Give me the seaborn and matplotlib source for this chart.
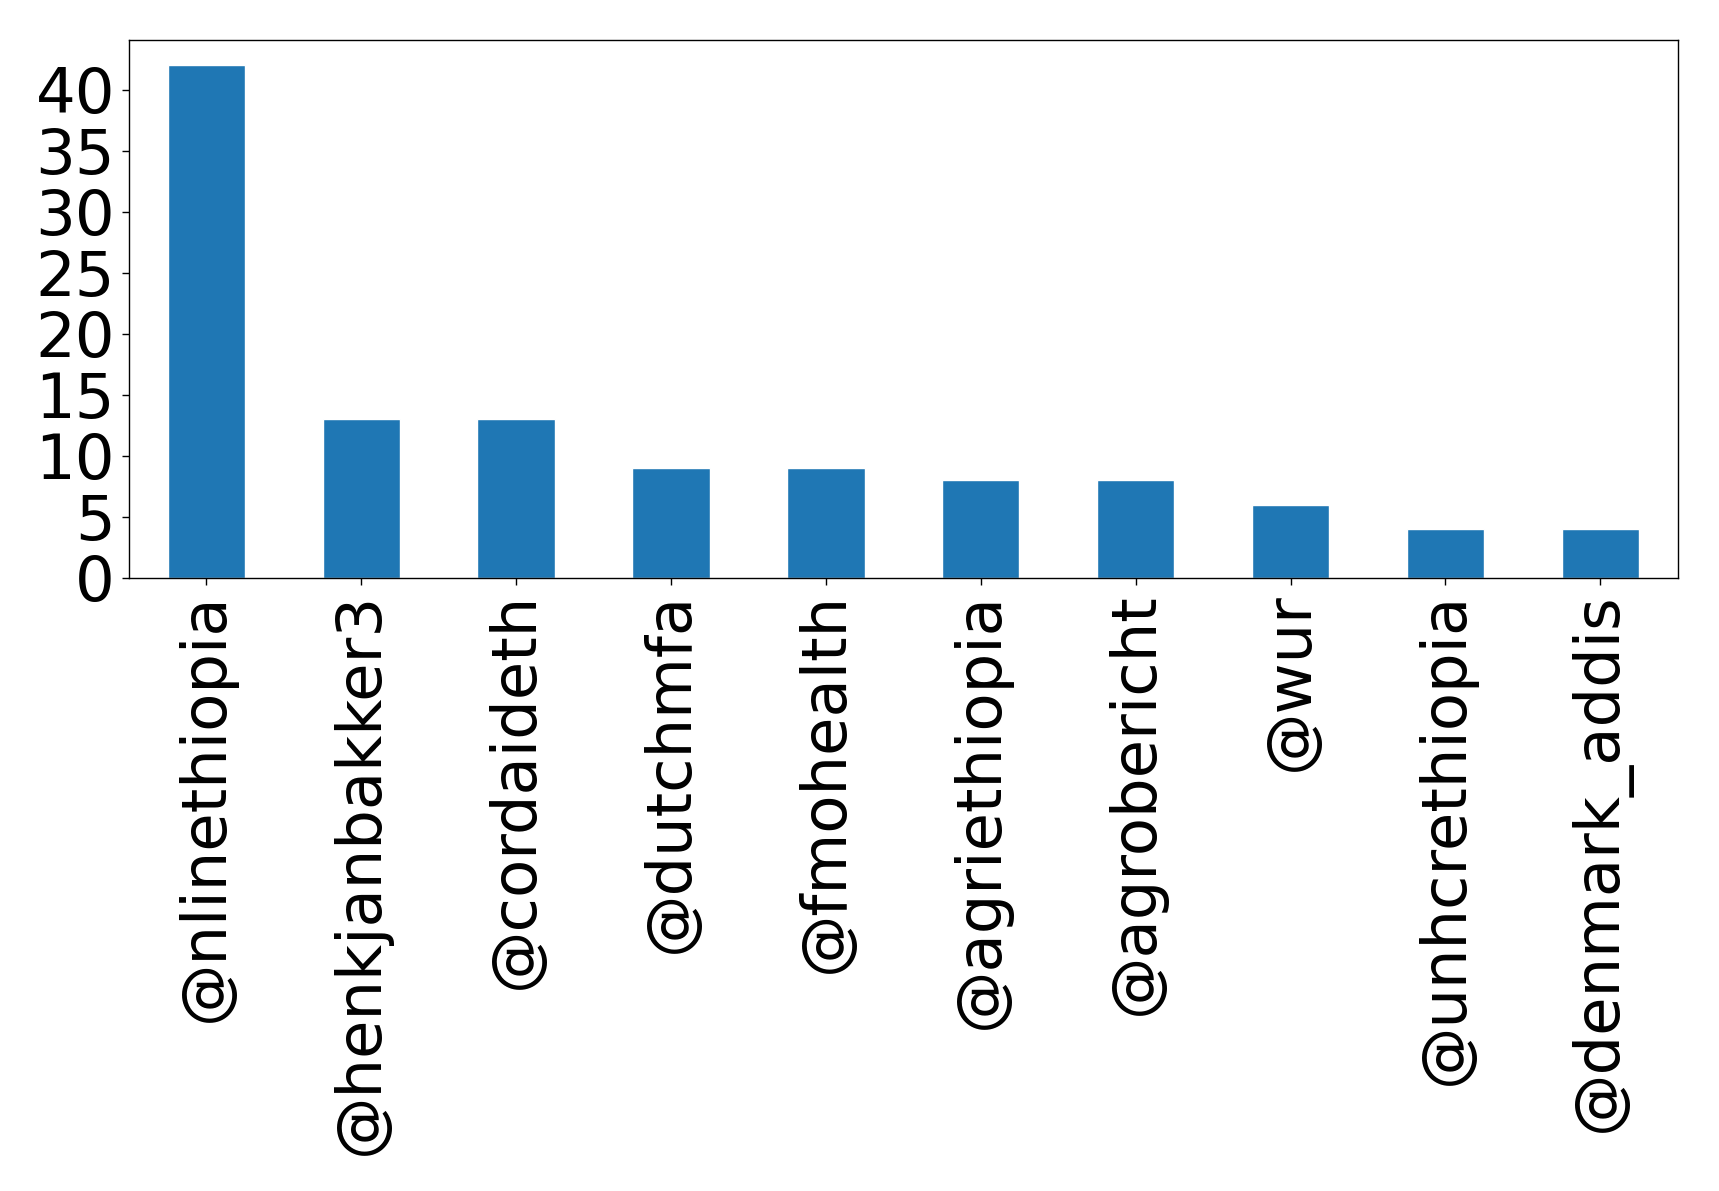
import matplotlib
matplotlib.use("Agg")
import matplotlib.pyplot as plt
import seaborn as sns
import pandas as pd

sns.set_style("ticks")
plt.rcParams['font.family'] = ['DejaVu Sans']
plt.rcParams['text.color'] = 'black'
plt.rcParams['xtick.color'] = 'black'
plt.rcParams['ytick.color'] = 'black'
plt.rcParams['axes.edgecolor'] = 'black'

accounts = ["@nlinethiopia", "@henkjanbakker3", "@cordaideth", "@dutchmfa",
            "@fmohealth", "@agriethiopia", "@agrobericht", "@wur",
            "@unhcrethiopia", "@denmark_addis"]
counts = [42, 13, 13, 9, 9, 8, 8, 6, 4, 4]

df = pd.DataFrame({"account": accounts, "count": counts})

fig = plt.figure(figsize=(17.19, 11.91), dpi=100)
ax = fig.add_axes([0.075, 0.5147, 0.901, 0.452])
sns.barplot(data=df, x="account", y="count", color="#1f77b4", saturation=1,
            width=0.5, ax=ax)
ax.set_xlim(-0.5, len(accounts) - 0.5)
ax.set_ylim(0, 44.1)
ax.set_yticks(range(0, 45, 5))
ax.set_xlabel("")
ax.set_ylabel("")
ax.tick_params(axis="both", labelsize=45, length=5, width=1, pad=5,
               colors="black", labelcolor="black")
plt.setp(ax.get_xticklabels(), rotation=90)
for s in ax.spines.values():
    s.set_visible(True)
    s.set_linewidth(1)
    s.set_color("black")
fig.savefig("out.png", dpi=100)
